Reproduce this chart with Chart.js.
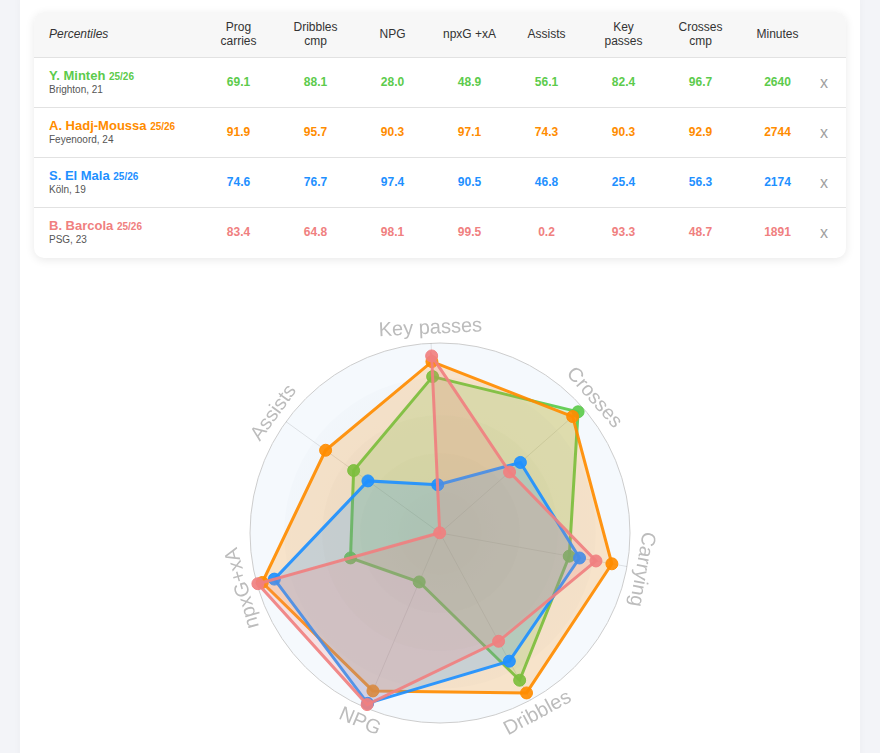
<!DOCTYPE html>
<html>
<head>
<meta charset="utf-8">
<script src="https://cdn.jsdelivr.net/npm/chart.js@4.4.1/dist/chart.umd.min.js"></script>
<style>
html,body{margin:0;padding:0;background:#f3f4f8;font-family:"Liberation Sans",Arial,Helvetica,sans-serif;overflow:hidden;}
.page{position:absolute;left:20px;top:-12px;width:840px;height:820px;background:#fff;border-radius:12px;box-shadow:0 0 10px rgba(0,0,0,0.03);}
.tbl{position:absolute;left:34px;top:12px;width:812px;height:246px;background:#fff;border-radius:10px;box-shadow:0 2px 10px rgba(0,0,0,0.09);overflow:hidden;}
table{border-collapse:collapse;width:812px;table-layout:fixed;}
thead tr{background:#f7f7f7;height:45px;}
th{font-weight:normal;font-size:12px;color:#333;line-height:14px;text-align:center;padding:0;}
th.first{font-style:italic;text-align:left;padding-left:15px;}
tbody tr{height:50px;}
tbody td{border-top:1px solid #e2e2e2;padding:0;text-align:center;font-weight:bold;font-size:12px;}
td.name{text-align:left;padding-left:15px;}
td.name .n{font-size:13px;font-weight:bold;line-height:15px;display:block;}
td.name .n small{font-size:10px;}
td.name .s{font-size:10px;font-weight:normal;color:#555;line-height:12px;display:block;}
td.x{color:#a0a0a0;font-weight:normal;font-size:16px;text-align:left;padding-left:4px;padding-top:2px;}
#radar{position:absolute;left:20px;top:270px;}
</style>
</head>
<body>
<div class="page"></div>
<div class="tbl"><table id="t"></table></div>
<canvas id="radar" width="840" height="483"></canvas>
<script>
// ---- data ----
const tableColumns = ['Prog<br>carries', 'Dribbles<br>cmp', 'NPG', 'npxG +xA', 'Assists', 'Key<br>passes', 'Crosses<br>cmp', 'Minutes'];
const playerNames = ['Y. Minteh', 'A. Hadj-Moussa', 'S. El Mala', 'B. Barcola'];
const playerSeason = ['25/26', '25/26', '25/26', '25/26'];
const playerInfo = ['Brighton, 21', 'Feyenoord, 24', 'Köln, 19', 'PSG, 23'];
const playerColors = ['#5ccb4c', '#ff8c00', '#1e90ff', '#f08080'];
// columns: Prog carries, Dribbles cmp, NPG, npxG+xA, Assists, Key passes, Crosses cmp
const mintehValues = [69.1, 88.1, 28.0, 48.9, 56.1, 82.4, 96.7];
const hadjMoussaValues = [91.9, 95.7, 90.3, 97.1, 74.3, 90.3, 92.9];
const elMalaValues = [74.6, 76.7, 97.4, 90.5, 46.8, 25.4, 56.3];
const barcolaValues = [83.4, 64.8, 98.1, 99.5, 0.2, 93.3, 48.7];
const playerMinutes = [2640, 2744, 2174, 1891];
const radarLabels = ['Key passes', 'Crosses', 'Carrying', 'Dribbles', 'NPG', 'npxG+xA', 'Assists'];
const radarColumnIndex = [5, 6, 0, 1, 2, 3, 4];

const allValues = [mintehValues, hadjMoussaValues, elMalaValues, barcolaValues];

// ---- table ----
let html = '<thead><tr><th class="first" style="width:151px">Percentiles</th>';
tableColumns.forEach(c => html += '<th style="width:77px">' + c + '</th>');
html += '<th style="width:45px"></th></tr></thead><tbody>';
playerNames.forEach((n, i) => {
  const col = playerColors[i];
  html += '<tr><td class="name"><span class="n" style="color:' + col + '">' + n + ' <small>' + playerSeason[i] + '</small></span><span class="s">' + playerInfo[i] + '</span></td>';
  allValues[i].forEach(v => html += '<td style="color:' + col + '">' + v.toFixed(1) + '</td>');
  html += '<td style="color:' + col + '">' + playerMinutes[i] + '</td><td class="x">x</td></tr>';
});
html += '</tbody>';
document.getElementById('t').innerHTML = html;

// ---- radar ----
function hexA(hex, a) {
  const r = parseInt(hex.slice(1, 3), 16), g = parseInt(hex.slice(3, 5), 16), b = parseInt(hex.slice(5, 7), 16);
  return 'rgba(' + r + ',' + g + ',' + b + ',' + a + ')';
}
const datasets = playerNames.map((n, i) => ({
  label: n,
  data: radarColumnIndex.map(k => allValues[i][k]),
  borderColor: hexA(playerColors[i], 0.92),
  backgroundColor: hexA(playerColors[i], 0.2),
  pointBackgroundColor: hexA(playerColors[i], 0.92),
  pointBorderColor: hexA(playerColors[i], 0.92),
  pointBorderWidth: 1,
  pointRadius: 6,
  borderWidth: 3,
  fill: true,
  order: 4 - i
}));

const bgPlugin = {
  id: 'bg',
  beforeDraw(chart) {
    const s = chart.scales.r, ctx = chart.ctx;
    const R = s.drawingArea;
    ctx.save();
    ctx.beginPath(); ctx.arc(s.xCenter, s.yCenter, R, 0, Math.PI * 2);
    ctx.fillStyle = '#f5f9fd'; ctx.fill();
    const g = ctx.createRadialGradient(s.xCenter, s.yCenter, 0, s.xCenter, s.yCenter, R * 0.82);
    g.addColorStop(0, 'rgba(205,210,215,0.35)');
    g.addColorStop(1, 'rgba(225,232,240,0.15)');
    ctx.beginPath(); ctx.arc(s.xCenter, s.yCenter, R * 0.82, 0, Math.PI * 2);
    ctx.fillStyle = g; ctx.fill();
    [0.62, 0.42, 0.22].forEach(f => {
      ctx.beginPath(); ctx.arc(s.xCenter, s.yCenter, R * f, 0, Math.PI * 2);
      ctx.fillStyle = 'rgba(210,215,220,0.08)'; ctx.fill();
    });
    ctx.restore();
  }
};
const labelPlugin = {
  id: 'rlabels',
  afterDraw(chart) {
    const s = chart.scales.r, ctx = chart.ctx;
    ctx.save();
    ctx.font = '20px "Liberation Sans", Arial, sans-serif';
    ctx.fillStyle = '#bcbcbc';
    ctx.textAlign = 'center';
    ctx.textBaseline = 'middle';
    const dist = s.drawingArea + 15;
    radarLabels.forEach((lab, i) => {
      let th = s.getIndexAngle(i);
      const x = s.xCenter + dist * Math.sin(th);
      const y = s.yCenter - dist * Math.cos(th);
      let deg = th * 180 / Math.PI;
      if (deg < 0) deg += 360;
      let rot = th;
      if (deg > 120 && deg < 240) rot = th - Math.PI;
      ctx.save();
      ctx.translate(x, y);
      ctx.rotate(rot);
      ctx.fillText(lab, 0, 0);
      ctx.restore();
    });
    ctx.restore();
  }
};

new Chart(document.getElementById('radar'), {
  type: 'radar',
  data: { labels: radarLabels, datasets },
  options: {
    responsive: false,
    animation: false,
    layout: { padding: { left: 230, right: 230, top: 73, bottom: 30 } },
    plugins: { legend: { display: false }, tooltip: { enabled: false } },
    elements: { line: { tension: 0 } },
    scales: {
      r: {
        min: 0, max: 100,
        startAngle: -2.7,
        ticks: { display: false, stepSize: 20 },
        pointLabels: { display: false },
        grid: { circular: true, color: c => (c.tick && c.tick.value === 100) ? '#cdcdcd' : 'rgba(0,0,0,0)', lineWidth: 1 },
        angleLines: { color: 'rgba(0,0,0,0.1)', lineWidth: 1 }
      }
    }
  },
  plugins: [bgPlugin, labelPlugin]
});
</script>
</body>
</html>
